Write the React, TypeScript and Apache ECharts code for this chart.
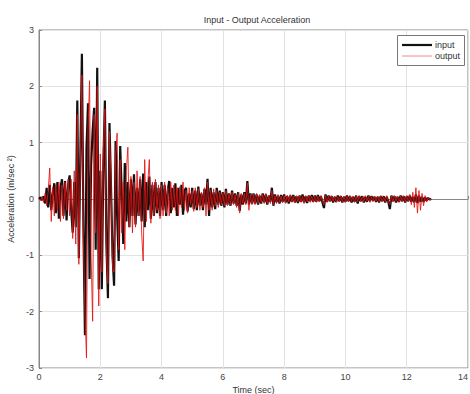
import React, { useEffect, useRef } from "react";
import * as echarts from "echarts";

const dt = 0.05;
const xTicks = [0, 2, 4, 6, 8, 10, 12, 14];
const yTicks = [-3, -2, -1, 0, 1, 2, 3];
const seriesNames = ["input", "output"];

const inputAcc = [
  0, 0.03, -0.02, 0.05, -0.08, 0.2, -0.15, 0.25, -0.2, 0.1, 0.28, -0.25, 0.3, -0.35, 0.2, 0.35, -0.3, 0.32, -0.38, 0.25,
  0.42, -0.2, -0.6, 0.3, -0.5, 1.75, -1.05, 0.8, 2.58, -0.5, -2.42, 0.9, 1.7, -1.42, 0.6, 1.2, 1.62, -0.9, 2.33, -1.6,
  0.5, -1.6, 0.6, 1.75, -0.8, -1.76, 1.35, 0.2, -1.0, -1.54, 1.03, -0.3, -1.1, 0.94, 0.1, -0.8, 0.64, -0.4, 0.3, -0.5,
  0.35, -0.3, 0.44, -0.45, 0.2, -0.3, 0.35, -0.4, 0.45, -0.5, 0.3, -0.2, 0.4, -0.35, 0.25, -0.3, 0.3, -0.25, 0.2, -0.3,
  0.3, -0.2, 0.25, -0.3, 0.15, 0.32, -0.25, 0.2, -0.15, 0.28, -0.3, 0.2, -0.1, 0.25, -0.28, 0.15, 0.2, -0.22, 0.1, -0.15,
  0.2, -0.18, 0.15, -0.2, 0.22, -0.12, 0.1, -0.2, 0.18, -0.1, 0.36, -0.3, 0.2, -0.15, 0.12, -0.18, 0.2, -0.1, 0.15, -0.12,
  0.12, -0.15, 0.18, -0.1, 0.1, -0.12, 0.15, -0.08, 0.1, -0.12, 0.12, -0.21, 0.08, -0.1, 0.12, -0.08, 0.32, -0.1, 0.1, -0.08,
  0.1, -0.08, 0.08, -0.1, 0.06, -0.08, 0.1, -0.06, 0.08, -0.1, 0.06, -0.05, 0.2, -0.12, 0.08, -0.06, 0.06, -0.08, 0.07, -0.05,
  0.08, -0.06, 0.05, -0.08, 0.06, -0.05, 0.07, -0.06, 0.05, -0.07, 0.06, -0.05, 0.08, -0.06, 0.05, -0.07, 0.06, -0.04, 0.07, -0.05,
  0.06, -0.05, 0.07, -0.04, 0.05, -0.06, -0.16, 0.08, -0.05, 0.06, -0.04, 0.05, -0.06, 0.04, -0.05, 0.06, -0.04, 0.05, -0.06, 0.04,
  -0.05, 0.06, -0.04, 0.05, -0.06, 0.04, -0.05, 0.06, -0.08, 0.05, -0.04, 0.05, -0.06, 0.04, -0.05, 0.06, -0.04, 0.05, -0.03, 0.04,
  -0.05, 0.04, -0.06, 0.05, -0.04, 0.05, -0.06, 0.04, -0.05, -0.18, 0.06, -0.04, 0.05, -0.06, 0.04, -0.05, 0.06, -0.04, 0.05, -0.06,
  0.05, -0.04, 0.06, -0.05, 0.04, -0.06, 0.08, -0.07, 0.06, -0.05, 0.04, -0.05, 0.03, -0.03, 0.02, -0.01, 0,
];

const outputAcc = [
  0, -0.03, 0.04, -0.06, 0.1, -0.12, 0.15, 0.55, -0.4, 0.2, -0.3, 0.25, -0.2, 0.3, -0.4, 0.25, -0.35, 0.3, -0.2, 0.35,
  -0.3, 0.35, -0.7, 0.5, -0.8, 1.5, -1.16, 0.6, 2.2, -0.8, -2.0, -2.82, 1.2, 2.1, -1.0, -2.17, 1.5, -0.6, 2.0, -1.9,
  0.8, -1.3, 0.9, 1.6, -1.0, -1.5, 1.2, 0.4, -1.2, -1.3, 0.8, 1.17, -0.9, 0.7, -0.6, 0.3, -0.9, 0.5, 0.92, -0.5,
  0.4, -0.6, 0.3, -0.5, 0.5, -0.3, 0.4, -0.6, -1.1, 0.7, -0.4, 0.3, 0.7, -0.43, 0.3, -0.3, 0.35, -0.2, 0.25, -0.35,
  0.25, -0.3, 0.3, -0.25, 0.2, -0.3, 0.3, -0.2, 0.25, -0.2, 0.2, -0.3, 0.22, -0.15, 0.3, -0.2, 0.15, -0.25, 0.2, -0.1,
  0.15, -0.22, 0.2, -0.15, 0.18, -0.2, 0.12, -0.15, 0.2, -0.3, 0.3, -0.2, 0.15, -0.2, 0.18, -0.12, 0.15, -0.15, 0.12, -0.1,
  0.1, -0.12, 0.15, -0.12, 0.1, -0.1, 0.12, -0.1, 0.08, -0.15, 0.1, -0.25, 0.1, -0.08, 0.1, -0.1, 0.28, -0.2, 0.08, -0.1,
  0.08, -0.1, 0.1, -0.08, 0.08, -0.06, 0.08, -0.08, 0.1, -0.08, 0.06, -0.08, 0.15, -0.1, 0.06, -0.08, 0.08, -0.06, 0.05, -0.07,
  0.06, -0.08, 0.07, -0.05, 0.08, -0.06, 0.05, -0.07, 0.06, -0.05, 0.07, -0.06, 0.05, -0.08, 0.06, -0.05, 0.07, -0.06, 0.05, -0.06,
  0.05, -0.06, 0.05, -0.05, 0.06, -0.04, -0.1, 0.06, -0.06, 0.05, -0.05, 0.06, -0.04, 0.05, -0.06, 0.04, -0.05, 0.06, -0.05, 0.05,
  -0.06, 0.05, -0.05, 0.06, -0.04, 0.05, -0.06, 0.05, -0.05, 0.06, -0.05, 0.04, -0.05, 0.06, -0.04, 0.05, -0.06, 0.04, -0.05, 0.05,
  -0.04, 0.05, -0.05, 0.06, -0.05, 0.04, -0.05, 0.06, -0.06, -0.1, 0.05, -0.05, 0.06, -0.04, 0.05, -0.06, 0.05, -0.05, 0.06, -0.05,
  0.06, -0.05, 0.08, -0.1, 0.12, -0.15, 0.2, -0.25, 0.15, -0.2, 0.1, -0.12, 0.06, -0.05, 0.03, -0.02, 0,
];

const FONT = "Liberation Sans, Arial, sans-serif";
const INPUT_COLOR = "#111";
const OUTPUT_COLOR = "#e51010";

export default function App() {
  const ref = useRef<HTMLDivElement>(null);
  useEffect(() => {
    if (!ref.current) return;
    const chart = echarts.init(ref.current, undefined, { renderer: "svg" });
    const toPairs = (arr: number[]) => arr.map((v, i) => [+(i * dt).toFixed(2), v]);
    chart.setOption({
      animation: false,
      backgroundColor: "#fff",
      title: {
        text: "Input - Output Acceleration",
        left: 252,
        top: 10,
        textAlign: "center",
        textStyle: { fontFamily: FONT, fontSize: 9, fontWeight: "normal", color: "#333" },
      },
      grid: {
        left: 39,
        top: 30,
        width: 429,
        height: 338,
        show: true,
        borderColor: "#888",
        borderWidth: 1,
        backgroundColor: "#fff",
        outerBoundsMode: "none",
        containLabel: false,
      },
      xAxis: {
        type: "value",
        min: xTicks[0],
        max: xTicks[xTicks.length - 1],
        interval: 2,
        name: "Time (sec)",
        nameLocation: "middle",
        nameGap: 17,
        nameTextStyle: { fontFamily: FONT, fontSize: 9, color: "#333" },
        axisLine: { lineStyle: { color: "#888" } },
        axisTick: { inside: true, length: 3, lineStyle: { color: "#888" } },
        axisLabel: { fontFamily: FONT, fontSize: 9, color: "#444", margin: 4, alignMaxLabel: "right" },
        splitLine: { show: true, lineStyle: { color: "#e2e2e2", width: 1 } },
      },
      yAxis: {
        type: "value",
        min: yTicks[0],
        max: yTicks[yTicks.length - 1],
        interval: 1,
        name: "Acceleration (m/sec \u00b2)",
        nameLocation: "middle",
        nameGap: 14,
        nameRotate: 90,
        nameTextStyle: { fontFamily: FONT, fontSize: 9, color: "#333" },
        axisLine: { show: true, lineStyle: { color: "#888" } },
        axisTick: { show: true, inside: true, length: 3, lineStyle: { color: "#888" } },
        axisLabel: { fontFamily: FONT, fontSize: 9, color: "#444", margin: 5 },
        splitLine: { show: true, lineStyle: { color: "#e2e2e2", width: 1 } },
      },
      graphic: [
        {
          type: "rect",
          shape: { x: 397.5, y: 35.5, width: 67, height: 30 },
          style: { fill: "#fff", stroke: "#777", lineWidth: 1 },
          z: 100,
        },
        {
          type: "line",
          shape: { x1: 402, y1: 45, x2: 432, y2: 45 },
          style: { stroke: INPUT_COLOR, lineWidth: 2.2 },
          z: 101,
        },
        {
          type: "text",
          x: 435,
          y: 45,
          style: { text: seriesNames[0], fontFamily: FONT, fontSize: 9, fill: "#333", verticalAlign: "middle" },
          z: 101,
        },
        {
          type: "line",
          shape: { x1: 402, y1: 56, x2: 432, y2: 56 },
          style: { stroke: "#f08a8a", lineWidth: 1 },
          z: 101,
        },
        {
          type: "text",
          x: 435,
          y: 56,
          style: { text: seriesNames[1], fontFamily: FONT, fontSize: 9, fill: "#333", verticalAlign: "middle" },
          z: 101,
        },
      ],
      series: [
        {
          name: seriesNames[0],
          type: "line",
          data: toPairs(inputAcc),
          symbol: "none",
          color: INPUT_COLOR,
          lineStyle: { color: INPUT_COLOR, width: 2.2 },
          z: 2,
        },
        {
          name: seriesNames[1],
          type: "line",
          data: toPairs(outputAcc),
          symbol: "none",
          color: OUTPUT_COLOR,
          lineStyle: { color: OUTPUT_COLOR, width: 1, opacity: 0.85 },
          z: 3,
        },
      ],
    });
    return () => chart.dispose();
  }, []);
  return <div ref={ref} style={{ width: 470, height: 394, position: "absolute", left: 0, top: 0 }} />;
}
